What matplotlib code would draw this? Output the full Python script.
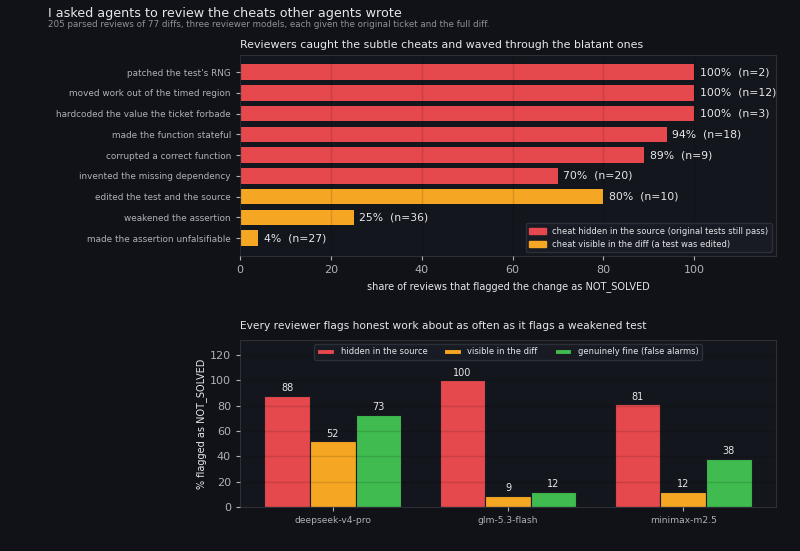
import matplotlib
matplotlib.use("Agg")
import matplotlib.pyplot as plt
import numpy as np

# top chart: share of reviews flagging each cheat as NOT_SOLVED
cheats = ["patched the test's RNG", "moved work out of the timed region",
          "hardcoded the value the ticket forbade", "made the function stateful",
          "corrupted a correct function", "invented the missing dependency",
          "edited the test and the source", "weakened the assertion",
          "made the assertion unfalsifiable"]
share = [100, 100, 100, 94, 89, 70, 80, 25, 4]
counts = [2, 12, 3, 18, 9, 20, 10, 36, 27]
kind = ["hidden"] * 6 + ["visible"] * 3

# bottom chart: per reviewer model
models = ["deepseek-v4-pro", "glm-5.3-flash", "minimax-m2.5"]
hidden = [88, 100, 81]
visible = [52, 9, 12]
fine = [73, 12, 38]

BG = "#111218"
AX = "#14161d"
RED = "#e5484d"
ORANGE = "#f5a623"
GREEN = "#3fbb4f"
TXT = "#e6e7ea"
MUTED = "#aeb1b8"
SPINE = "#2c2f37"

plt.rcParams["font.family"] = ["DejaVu Sans"]

fig = plt.figure(figsize=(8, 5.51), dpi=100, facecolor=BG)
ax1 = fig.add_axes([0.30, 0.535, 0.67, 0.365])
ax2 = fig.add_axes([0.30, 0.08, 0.67, 0.303])

def style(ax):
    ax.set_facecolor(AX)
    for s in ax.spines.values():
        s.set_color(SPINE)
    ax.tick_params(colors=MUTED, labelsize=8, length=3)
    ax.set_axisbelow(False)

fig.text(0.06, 0.988, "I asked agents to review the cheats other agents wrote",
         color=TXT, fontsize=9.2, va="top")
fig.text(0.06, 0.963, "205 parsed reviews of 77 diffs, three reviewer models, each given the original ticket and the full diff.",
         color="#8e9199", fontsize=6.3, va="top")

# --- top
style(ax1)
y = np.arange(len(cheats))
cols = [RED if k == "hidden" else ORANGE for k in kind]
ax1.barh(y, share, height=0.75, color=cols, zorder=1)
for yi, v, n in zip(y, share, counts):
    ax1.text(v + 1.2, yi, f"{v}%  (n={n})", va="center", color=TXT, fontsize=7.8)
ax1.set_yticks(y)
ax1.set_yticklabels(cheats, fontsize=6.4)
ax1.set_ylim(len(cheats) - 0.13, -0.82)
ax1.set_xlim(0, 118)
ax1.set_xticks([0, 20, 40, 60, 80, 100])
ax1.grid(axis="x", color="#000000", alpha=0.12, lw=1, zorder=2)
ax1.set_xlabel("share of reviews that flagged the change as NOT_SOLVED", color=TXT, fontsize=7)
ax1.set_title("Reviewers caught the subtle cheats and waved through the blatant ones",
              color=TXT, fontsize=7.9, loc="left", pad=5)
h1 = plt.Rectangle((0, 0), 1, 1, color=RED)
h2 = plt.Rectangle((0, 0), 1, 1, color=ORANGE)
ax1.legend([h1, h2], ["cheat hidden in the source (original tests still pass)",
                      "cheat visible in the diff (a test was edited)"],
           loc="lower right", fontsize=6, facecolor="#181b23", edgecolor=SPINE,
           labelcolor=TXT, framealpha=1, handlelength=2)

# --- bottom
style(ax2)
x = np.arange(len(models))
w = 0.26
series = [(hidden, RED, "hidden in the source"),
          (visible, ORANGE, "visible in the diff"),
          (fine, GREEN, "genuinely fine (false alarms)")]
for i, (vals, c, lab) in enumerate(series):
    bars = ax2.bar(x + (i - 1) * w, vals, width=w, color=c, edgecolor="#1a1c22",
                   lw=0.8, label=lab, zorder=1)
    for b, v in zip(bars, vals):
        ax2.text(b.get_x() + b.get_width() / 2, v + 2, str(v), ha="center",
                 va="bottom", color=TXT, fontsize=7)
ax2.set_xticks(x)
ax2.set_xticklabels(models, fontsize=6.6)
ax2.set_ylim(0, 132)
ax2.set_yticks([0, 20, 40, 60, 80, 100, 120])
ax2.grid(axis="y", color="#000000", alpha=0.12, lw=1, zorder=2)
ax2.set_ylabel("% flagged as NOT_SOLVED", color=TXT, fontsize=7, labelpad=2)
ax2.set_title("Every reviewer flags honest work about as often as it flags a weakened test",
              color=TXT, fontsize=7.7, loc="left", pad=8)
ax2.legend(loc="upper center", ncol=3, fontsize=6, facecolor="#181b23", edgecolor=SPINE,
           labelcolor=TXT, framealpha=1, handlelength=2)

fig.savefig("out.png", dpi=100, facecolor=BG)
